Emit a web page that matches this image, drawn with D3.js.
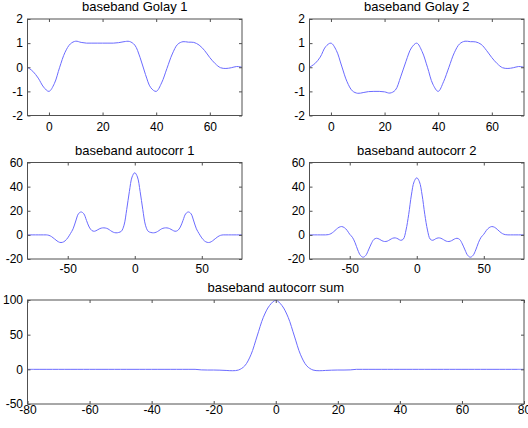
<!DOCTYPE html>
<html>
<head>
<meta charset="utf-8">
<script src="https://cdn.jsdelivr.net/npm/d3@7"></script>
<style>
  html, body { margin: 0; padding: 0; background: #fff; }
  svg { display: block; }
  text { font-family: "Liberation Sans", Arial, Helvetica, sans-serif; fill: #000; }
</style>
</head>
<body>
<svg id="chart" width="528" height="428"></svg>
<script>
// ---------------- data ----------------
const titles = ["baseband Golay 1", "baseband Golay 2", "baseband autocorr 1", "baseband autocorr 2", "baseband autocorr sum"];

const golayX = [-8,-6,-4,-2,0,2,4,6,8,10,12,14,16,18,20,22,24,26,28,30,32,34,36,38,40,42,44,46,48,50,52,54,56,58,60,62,64,66,68,70,72];
const golay1 = [0,-0.17,-0.45,-0.82,-1.0,-0.68,0.0,0.62,0.97,1.08,1.03,1.0,1.0,1.0,1.0,1.0,1.0,1.02,1.06,1.07,0.92,0.4,-0.3,-0.85,-1.0,-0.65,-0.05,0.55,0.95,1.06,1.04,1.03,0.92,0.7,0.4,0.15,-0.02,-0.05,-0.02,0.03,0.0];
const golay2 = [0,0.15,0.42,0.85,1.0,0.7,0.05,-0.6,-0.98,-1.08,-1.05,-1.01,-1.0,-1.0,-1.02,-1.07,-0.95,-0.4,0.25,0.8,1.0,0.65,0.0,-0.7,-1.0,-0.6,0.0,0.6,0.97,1.08,1.06,1.05,0.95,0.7,0.4,0.15,-0.02,-0.05,-0.02,0.03,0.0];

const lagX = [-80,-78,-76,-74,-72,-70,-68,-66,-64,-62,-60,-58,-56,-54,-52,-50,-48,-46,-44,-42,-40,-38,-36,-34,-32,-30,-28,-26,-24,-22,-20,-18,-16,-14,-12,-10,-8,-6,-4,-2,0,2,4,6,8,10,12,14,16,18,20,22,24,26,28,30,32,34,36,38,40,42,44,46,48,50,52,54,56,58,60,62,64,66,68,70,72,74,76,78,80];
const autocorr1 = [0,0,0,0,0,0,0,0,-0.4,-1.5,-3.2,-5,-6.2,-6.2,-5,-2.5,1,5,11.5,17.5,19,17.5,12,6.5,3.6,3,4,5.2,5.8,5.7,5,3.5,2.2,1.7,2,3,8,21,36,48,51.5,48,36,21,8,3,2,1.7,2.2,3.5,5,5.7,5.8,5.2,4,3,3.6,6.5,12,17.5,19,17.5,11.5,5,1,-2.5,-5,-6.2,-6.2,-5,-3.2,-1.5,-0.4,0,0,0,0,0,0,0,0];
const autocorr2 = [0,0,0,0,0,0,0,0.2,1,2.6,4.6,6.3,6.9,6,3.8,0.5,-2,-6.5,-12.5,-17,-18.5,-17,-12.5,-7.5,-3.8,-2.8,-3.5,-4.8,-5.5,-5.2,-4,-2.8,-2.5,-3.3,-4.5,-3.5,4,17,33,44,47.3,44,33,17,4,-3.5,-4.5,-3.3,-2.5,-2.8,-4,-5.2,-5.5,-4.8,-3.5,-2.8,-3.8,-7.5,-12.5,-17,-18.5,-17,-12.5,-6.5,-2,0.5,3.8,6,6.9,6.3,4.6,2.6,1,0.2,0,0,0,0,0,0,0];
const autocorrSum = [0,0,0,0,0,0,0,0,0,0,0,0,0,0,0,0,0,0,0,0,0,0,0,0,0,0,0,0,-0.8,-1,-1,-1.2,-1.6,-2,-1,5,21,48,75,92,99.5,92,75,48,21,5,-1,-2,-1.6,-1.2,-1,-1,-0.8,0,0,0,0,0,0,0,0,0,0,0,0,0,0,0,0,0,0,0,0,0,0,0,0,0,0,0,0];

const golayXTicks = [0,20,40,60];
const golayYTicks = [-2,-1,0,1,2];
const acXTicks = [-50,0,50];
const acYTicks = [-20,0,20,40,60];
const sumXTicks = [-80,-60,-40,-20,0,20,40,60,80];
const sumYTicks = [-50,0,50,100];

// ---------------- layout ----------------
const panels = [
  {title: titles[0], xs: golayX, ys: golay1, xd: [-8,72], yd: [-2,2], xt: golayXTicks, yt: golayYTicks, l: 27.5, r: 242, t: 19, b: 115.5, xpad: 6.5},
  {title: titles[1], xs: golayX, ys: golay2, xd: [-8,72], yd: [-2,2], xt: golayXTicks, yt: golayYTicks, l: 309.5, r: 524, t: 19, b: 115.5, xpad: 6.5},
  {title: titles[2], xs: lagX, ys: autocorr1, xd: [-80,80], yd: [-20,60], xt: acXTicks, yt: acYTicks, l: 27.5, r: 242, t: 162.5, b: 259, xpad: 5.5},
  {title: titles[3], xs: lagX, ys: autocorr2, xd: [-80,80], yd: [-20,60], xt: acXTicks, yt: acYTicks, l: 309.5, r: 524, t: 162.5, b: 259, xpad: 5.5},
  {title: titles[4], xs: lagX, ys: autocorrSum, xd: [-80,80], yd: [-50,100], xt: sumXTicks, yt: sumYTicks, l: 27.5, r: 524, t: 300, b: 404, xpad: 1.5}
];

const svg = d3.select("#chart");
const TICK = 3;
const boxColor = "#505050";
const fmt = d => String(d);   // plain hyphen-minus like the reference

panels.forEach((p, i) => {
  const x = d3.scaleLinear().domain(p.xd).range([p.l, p.r]);
  const y = d3.scaleLinear().domain(p.yd).range([p.b, p.t]);
  const g = svg.append("g");

  const clipId = "clip" + i;
  svg.append("clipPath").attr("id", clipId)
    .append("rect").attr("x", p.l).attr("y", p.t).attr("width", p.r - p.l).attr("height", p.b - p.t);

  // data line
  const line = d3.line().x((d, k) => x(p.xs[k])).y(d => y(d)).curve(d3.curveCatmullRom.alpha(0.5));
  g.append("path").datum(p.ys)
    .attr("clip-path", `url(#${clipId})`)
    .attr("d", line)
    .attr("fill", "none")
    .attr("stroke", "#6b6bff")
    .attr("stroke-width", 1);

  // axes (ticks inward, all four sides)
  const styleAxis = (sel) => {
    sel.select(".domain").remove();
    sel.selectAll(".tick line").attr("stroke", boxColor);
    sel.selectAll("text").attr("font-size", "12px").attr("fill", "#000")
      .style("font-family", '"Liberation Sans", Arial, sans-serif');
  };
  g.append("g").attr("transform", `translate(0,${p.b})`)
    .call(d3.axisBottom(x).tickValues(p.xt).tickSize(-TICK).tickPadding(p.xpad).tickFormat(fmt))
    .call(styleAxis);
  g.append("g").attr("transform", `translate(0,${p.t})`)
    .call(d3.axisTop(x).tickValues(p.xt).tickSize(-TICK).tickFormat(""))
    .call(styleAxis);
  g.append("g").attr("transform", `translate(${p.l},0)`)
    .call(d3.axisLeft(y).tickValues(p.yt).tickSize(-TICK).tickPadding(4.5).tickFormat(fmt))
    .call(styleAxis);
  g.append("g").attr("transform", `translate(${p.r},0)`)
    .call(d3.axisRight(y).tickValues(p.yt).tickSize(-TICK).tickFormat(""))
    .call(styleAxis);

  // box
  g.append("rect")
    .attr("x", p.l).attr("y", p.t).attr("width", p.r - p.l).attr("height", p.b - p.t)
    .attr("fill", "none").attr("stroke", boxColor).attr("stroke-width", 1);

  // title
  g.append("text")
    .attr("x", (p.l + p.r) / 2).attr("y", p.t - 8)
    .attr("text-anchor", "middle")
    .attr("font-size", "13px")
    .text(p.title);
});
</script>
</body>
</html>
